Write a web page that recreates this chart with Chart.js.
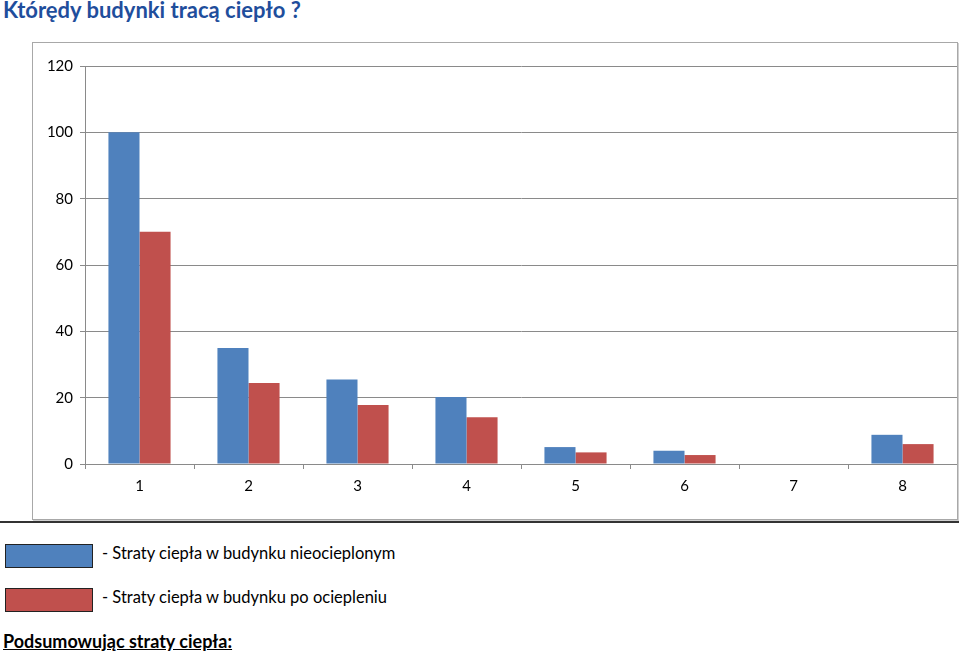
<!DOCTYPE html>
<html><head><meta charset="utf-8">
<script src="https://cdn.jsdelivr.net/npm/chart.js@4.4.1/dist/chart.umd.min.js"></script>
<style>
html,body{margin:0;padding:0;background:#fff;width:959px;height:653px;overflow:hidden;font-family:Lato,"Open Sans",sans-serif;}
#title{position:absolute;left:3px;top:-4px;font-weight:bold;font-size:22px;color:#1f4e9c;white-space:nowrap;}
#box{position:absolute;left:32px;top:42px;width:924px;height:476px;border:1px solid #a8a8a8;box-shadow:1px 1px 0 #d0d0d0;}
#wrap{position:absolute;left:0;top:0;width:924px;height:476px;}
#rule{position:absolute;left:0;top:521px;width:959px;height:2px;background:#333;}
.sw{position:absolute;left:5px;width:86px;height:22px;border:1px solid #222;}
.lt{position:absolute;left:102px;font-size:16.5px;color:#000;white-space:nowrap;}
#sum{position:absolute;left:3px;top:630px;font-size:18px;font-weight:bold;text-decoration:underline;white-space:nowrap;}
</style></head>
<body>
<div id="title">Którędy budynki tracą ciepło ?</div>
<div id="box"><div id="wrap"><canvas id="c"></canvas></div></div>
<div id="rule"></div>
<div class="sw" style="top:544px;background:#4f81bd;"></div>
<div class="lt" id="l1" style="top:543px;">- Straty ciepła w budynku nieocieplonym</div>
<div class="sw" style="top:588px;background:#c0504d;"></div>
<div class="lt" id="l2" style="top:587px;">- Straty ciepła w budynku po ociepleniu</div>
<div id="sum">Podsumowując straty ciepła:</div>
<script>
const categories = ["1","2","3","4","5","6","7","8"];
const seriesNames = ["Straty ciepła w budynku nieocieplonym","Straty ciepła w budynku po ociepleniu"];
const lossUninsulated = [100, 35, 25.5, 20.2, 5.1, 4.0, 0, 8.8];
const lossInsulated = [70, 24.4, 17.8, 14.1, 3.5, 2.7, 0, 6.0];
const yTicks = [0, 20, 40, 60, 80, 100, 120];

new Chart(document.getElementById('c'), {
  type: 'bar',
  data: {
    labels: categories,
    datasets: [
      {label: seriesNames[0], data: lossUninsulated, backgroundColor: '#4f81bd', borderWidth: 0, barPercentage: 1, categoryPercentage: 0.57},
      {label: seriesNames[1], data: lossInsulated, backgroundColor: '#c0504d', borderWidth: 0, barPercentage: 1, categoryPercentage: 0.57}
    ]
  },
  options: {
    responsive: true, maintainAspectRatio: false, animation: false,
    layout: {padding: {top: 23, left: 0, right: 0, bottom: 0}},
    plugins: {legend: {display: false}, tooltip: {enabled: false}},
    scales: {
      x: {
        offset: true,
        grid: {offset: true, drawOnChartArea: false, drawTicks: true, tickLength: 5, color: '#8a8a8a'},
        border: {color: '#8a8a8a'},
        ticks: {color: '#000', font: {family: 'Lato', size: 15}, padding: 8},
        afterFit: s => { s.height = 55; }
      },
      y: {
        min: 0, max: 120,
        afterBuildTicks: s => { s.ticks = yTicks.map(v => ({value: v})); },
        grid: {color: '#8a8a8a', tickLength: 5},
        border: {color: '#8a8a8a'},
        ticks: {color: '#000', font: {family: 'Lato', size: 15}, padding: 7},
        afterFit: s => { s.width = 52; }
      }
    }
  }
});
</script>
</body></html>
